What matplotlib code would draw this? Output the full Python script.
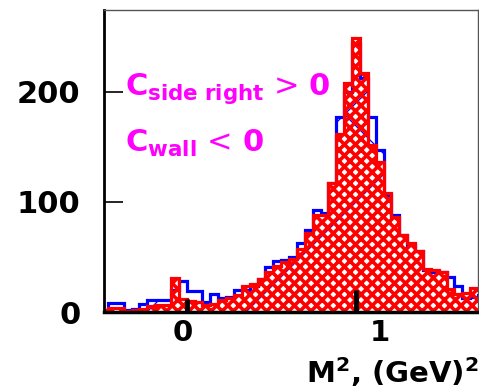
import matplotlib
matplotlib.use("Agg")
import matplotlib.pyplot as plt
import numpy as np
from matplotlib.transforms import IdentityTransform

# histogram binning (M^2 in GeV^2), 0.04 wide bins
m2_edges = np.round(np.arange(-0.42, 1.5401, 0.04), 2)

# counts per bin
counts_blue = [2, 8, 8, 2, 3, 7, 11, 11, 11, 20,
               28, 19, 19, 9, 16, 13, 14, 20, 20, 24,
               30, 41, 46, 47, 50, 63, 74, 93, 90, 117,
               177, 200, 243, 212, 177, 147, 106, 88, 70, 61,
               55, 38, 36, 36, 32, 24, 13, 14, 15]
counts_red = [2, 4, 4, 1, 2, 3, 5, 6, 6, 31,
              12, 10, 9, 6, 7, 11, 13, 15, 24, 25,
              30, 36, 42, 45, 48, 57, 72, 88, 88, 117,
              162, 208, 249, 217, 152, 136, 108, 86, 70, 63,
              55, 39, 38, 36, 21, 16, 17, 22, 20]

# black markers on the axis
marker_pos = [0.02, 0.88]
marker_height = [12, 20]

label_line1 = r"$\mathbf{C_{side\ right}}$ > $\mathbf{0}$"
label_line2 = r"$\mathbf{C_{wall}}$ < $\mathbf{0}$"

plt.rcParams['hatch.linewidth'] = 2.6

fig = plt.figure(figsize=(4.79, 3.90), dpi=100)
ax = fig.add_axes([0.217, 0.2, 0.781, 0.774])

# blue histogram: white inside, a few sparse crossing lines, thick outline
blue_patch = ax.stairs(counts_blue, m2_edges, fill=True, facecolor='white',
                       edgecolor='none', zorder=1)
bbox = ax.get_window_extent()
xx = np.array([bbox.x0, bbox.x1])
for c in [468, 545, 620]:
    ln, = ax.plot(xx, -xx + c, transform=IdentityTransform(), color='blue',
                  lw=0.9, zorder=1.1)
    ln.set_clip_path(blue_patch)
for c in [-69, -168]:
    ln, = ax.plot(xx, xx + c, transform=IdentityTransform(), color='blue',
                  lw=0.9, zorder=1.1)
    ln.set_clip_path(blue_patch)
ax.stairs(counts_blue, m2_edges, color='blue', linewidth=2.3, zorder=1.2)

# red histogram with dense red cross-hatch
ax.stairs(counts_red, m2_edges, fill=True, facecolor='none', edgecolor='red',
          hatch='xxx', linewidth=0, zorder=1.5)
ax.stairs(counts_red, m2_edges, color='red', linewidth=2.3, zorder=1.6)

ax.vlines(marker_pos, 0, marker_height, color='black', linewidth=3.5, zorder=3)

ax.set_xlim(-0.4, 1.5)
ax.set_ylim(0, 274)
ax.set_xticks([0, 1])
ax.set_yticks([0, 100, 200])
ax.tick_params(axis='y', direction='in', length=14, width=1.2, pad=17,
               labelsize=22)
ax.tick_params(axis='x', length=0, pad=5, labelsize=21)
for lab in ax.get_xticklabels() + ax.get_yticklabels():
    lab.set_fontweight('bold')

ax.spines['left'].set_linewidth(2)
ax.spines['bottom'].set_linewidth(2.5)
ax.spines['top'].set_linewidth(1)
ax.spines['right'].set_linewidth(1)
ax.spines['top'].set_color('#555555')
ax.spines['right'].set_color('#555555')

ax.text(0.056, 0.718, label_line1, transform=ax.transAxes, color='#ff00ff',
        fontsize=22, va='baseline')
ax.text(0.056, 0.53, label_line2, transform=ax.transAxes, color='#ff00ff',
        fontsize=22, va='baseline')

fig.text(0.999, 0.018, r"M$^\mathbf{2}$, (GeV)$^\mathbf{2}$", ha='right',
         va='baseline', fontsize=21, fontweight='bold')

fig.savefig("out.png", dpi=100)
